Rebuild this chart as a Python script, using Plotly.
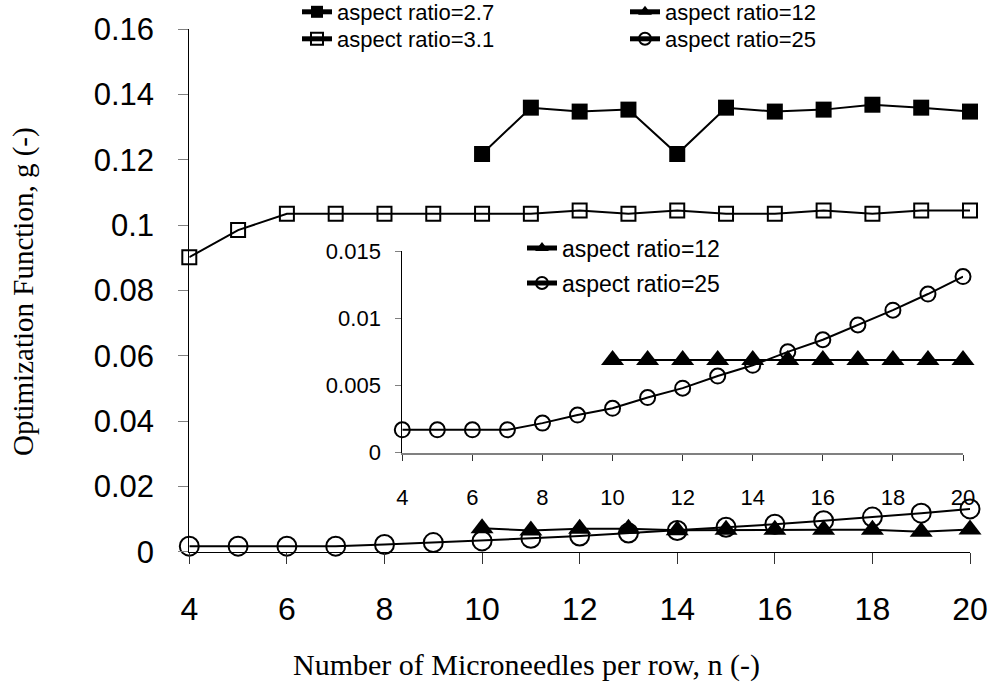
import plotly.graph_objects as go

# ---------------- data ----------------
n_all = [4, 5, 6, 7, 8, 9, 10, 11, 12, 13, 14, 15, 16, 17, 18, 19, 20]
n_high = [10, 11, 12, 13, 14, 15, 16, 17, 18, 19, 20]

g_ar27 = [0.1218, 0.1360, 0.1348, 0.1354, 0.1218, 0.1360, 0.1348, 0.1354, 0.1369, 0.1360, 0.1348]
g_ar31 = [0.0902, 0.0985, 0.1035, 0.1035, 0.1035, 0.1035, 0.1035, 0.1035, 0.1045,
          0.1035, 0.1045, 0.1035, 0.1035, 0.1045, 0.1035, 0.1045, 0.1045]
g_ar12_main = [0.0072, 0.0065, 0.0070, 0.0070, 0.0066, 0.0067, 0.0067, 0.0067, 0.0067, 0.0061, 0.0068]
g_ar25 = [0.0017, 0.0017, 0.0017, 0.0017, 0.0022, 0.0028, 0.0033, 0.0041, 0.0048,
          0.0057, 0.0065, 0.0075, 0.0084, 0.0095, 0.0106, 0.0118, 0.0131]
g_ar12_inset = [0.0069, 0.0069, 0.0069, 0.0069, 0.0069, 0.0069, 0.0069, 0.0069, 0.0069, 0.0069, 0.0069]

main_xticks = [4, 6, 8, 10, 12, 14, 16, 18, 20]
main_yticks = [0, 0.02, 0.04, 0.06, 0.08, 0.1, 0.12, 0.14, 0.16]
main_yticktext = ["0", "0.02", "0.04", "0.06", "0.08", "0.1", "0.12", "0.14", "0.16"]
inset_yticks = [0, 0.005, 0.01, 0.015]
inset_yticktext = ["0", "0.005", "0.01", "0.015"]

labels = ["aspect ratio=2.7", "aspect ratio=3.1", "aspect ratio=12", "aspect ratio=25"]

x_title = "Number of Microneedles per row, n (-)"
y_title = "Optimization Function, g (-)"

# ---------------- figure ----------------
W, H = 994, 689
SANS = "Liberation Sans, Arial, sans-serif"
SERIF = "Liberation Serif, Times New Roman, serif"
BLACK = "#000000"

fig = go.Figure()

# main plot
fig.add_trace(go.Scatter(x=n_high, y=g_ar27, name=labels[0], mode="lines+markers",
                         line=dict(color=BLACK, width=2),
                         marker=dict(symbol="square", size=16, color=BLACK),
                         cliponaxis=False, legend="legend"))
fig.add_trace(go.Scatter(x=n_all, y=g_ar31, name=labels[1], mode="lines+markers",
                         line=dict(color=BLACK, width=2),
                         marker=dict(symbol="square-open", size=14, color=BLACK, line=dict(width=2)),
                         cliponaxis=False, legend="legend2"))
fig.add_trace(go.Scatter(x=n_high, y=g_ar12_main, name=labels[2], mode="lines+markers",
                         line=dict(color=BLACK, width=2),
                         marker=dict(symbol="triangle-up", size=20, color=BLACK),
                         cliponaxis=False, legend="legend3"))
fig.add_trace(go.Scatter(x=n_all, y=g_ar25, name=labels[3], mode="lines+markers",
                         line=dict(color=BLACK, width=2),
                         marker=dict(symbol="circle-open", size=19, color=BLACK, line=dict(width=2)),
                         cliponaxis=False, legend="legend4"))

# inset
fig.add_trace(go.Scatter(x=n_high, y=g_ar12_inset, name=labels[2], mode="lines+markers",
                         xaxis="x2", yaxis="y2",
                         line=dict(color=BLACK, width=2),
                         marker=dict(symbol="triangle-up", size=20, color=BLACK),
                         cliponaxis=False, legend="legend5"))
fig.add_trace(go.Scatter(x=n_all, y=g_ar25, name=labels[3], mode="lines+markers",
                         xaxis="x2", yaxis="y2",
                         line=dict(color=BLACK, width=2),
                         marker=dict(symbol="circle-open", size=15, color=BLACK, line=dict(width=2)),
                         cliponaxis=False, legend="legend6"))


def px_x(p):
    return p / W


def px_y(p):
    return 1 - p / H


def leg(x_px, y_px, size):
    return dict(x=px_x(x_px), y=px_y(y_px), xanchor="left", yanchor="middle",
                bgcolor="rgba(0,0,0,0)", borderwidth=0,
                font=dict(family=SANS, size=size, color=BLACK),
                itemsizing="constant")


fig.update_layout(
    width=W, height=H,
    margin=dict(l=0, r=0, t=0, b=0, autoexpand=False),
    paper_bgcolor="white", plot_bgcolor="rgba(0,0,0,0)",
    showlegend=True,
    legend=leg(297, 12, 22),
    legend2=leg(297, 39, 22),
    legend3=leg(625, 12, 22),
    legend4=leg(625, 39, 22),
    legend5=leg(522, 248, 23),
    legend6=leg(522, 283, 23),
    xaxis=dict(domain=[px_x(189.3), px_x(970)], range=[4, 20],
               tickvals=main_xticks, ticks="outside", ticklen=11, tickwidth=1,
               tickcolor="#333333", showline=True, linecolor=BLACK, linewidth=1,
               showgrid=False, zeroline=False,
               tickfont=dict(family=SANS, size=32, color=BLACK),
               ticklabelstandoff=18, anchor="y"),
    yaxis=dict(domain=[px_y(551.7), px_y(29.3)], range=[0, 0.16],
               tickvals=main_yticks, ticktext=main_yticktext,
               ticks="outside", ticklen=10, tickwidth=1, tickcolor="#808080",
               showline=True, linecolor=BLACK, linewidth=1,
               showgrid=False, zeroline=False,
               tickfont=dict(family=SANS, size=31, color=BLACK),
               ticklabelstandoff=18, anchor="x"),
    xaxis2=dict(domain=[px_x(402.3), px_x(963)], range=[4, 20],
                tickvals=main_xticks, ticks="outside", ticklen=6, tickwidth=1,
                tickcolor="#333333", showline=True, linecolor="#808080", linewidth=2,
                showgrid=False, zeroline=False,
                tickfont=dict(family=SANS, size=22, color=BLACK),
                ticklabelstandoff=18, anchor="y2"),
    yaxis2=dict(domain=[px_y(452.7), px_y(251)], range=[0, 0.015],
                tickvals=inset_yticks, ticktext=inset_yticktext,
                ticks="outside", ticklen=6, tickwidth=1, tickcolor="#808080",
                showline=True, linecolor=BLACK, linewidth=1,
                showgrid=False, zeroline=False,
                tickfont=dict(family=SANS, size=22, color=BLACK),
                ticklabelstandoff=10, anchor="x2"),
    annotations=[
        dict(text=x_title, x=px_x(526), y=px_y(665), xref="paper", yref="paper",
             showarrow=False, xanchor="center", yanchor="middle",
             font=dict(family=SERIF, size=30, color=BLACK)),
        dict(text=y_title, x=px_x(24), y=px_y(292), xref="paper", yref="paper",
             showarrow=False, xanchor="center", yanchor="middle", textangle=-90,
             font=dict(family=SERIF, size=29, color=BLACK)),
    ],
)

fig.write_html("out.html")
